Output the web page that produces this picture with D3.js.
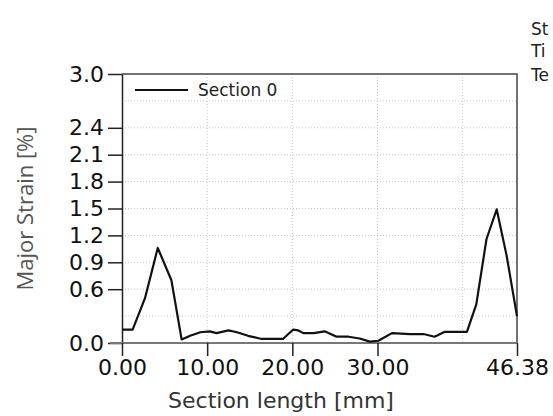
<!DOCTYPE html>
<html>
<head>
<meta charset="utf-8">
<script src="https://cdn.jsdelivr.net/npm/d3@7"></script>
<style>
  html, body { margin: 0; padding: 0; background: #fff; overflow: hidden; }
  svg { display: block; font-family: "DejaVu Sans", Verdana, sans-serif; }
</style>
</head>
<body>
<svg id="chart" width="553" height="416"></svg>
<script>
// Section 0 profile: position along the section [mm] and major strain [%]
const sectionLength = [0, 1.25, 2.7, 4.2, 5.8, 7.0, 8.0, 9.2, 10.3, 11.1, 12.5, 13.5, 14.8, 16.4, 18.9,
  20.1, 20.7, 21.3, 22.5, 23.8, 25.2, 26.6, 27.9, 29.1, 30.1, 31.7, 33.8, 35.4, 36.7, 37.9, 40.5,
  41.6, 42.8, 44.0, 45.15, 46.38];
const majorStrain = [0.15, 0.15, 0.50, 1.06, 0.70, 0.04, 0.08, 0.12, 0.13, 0.11, 0.14, 0.12, 0.08, 0.045, 0.045,
  0.15, 0.14, 0.11, 0.11, 0.13, 0.07, 0.07, 0.05, 0.015, 0.025, 0.11, 0.10, 0.10, 0.07, 0.125, 0.125,
  0.43, 1.16, 1.49, 0.98, 0.30];

const seriesName = "Section 0";
const xTicks = [0, 10, 20, 30, 46.38];
const xGrid = [10, 20, 30, 40];
const yTicks = [0.0, 0.6, 0.9, 1.2, 1.5, 1.8, 2.1, 2.4, 3.0];
const yGrid = [0.3, 0.6, 0.9, 1.2, 1.5, 1.8, 2.1, 2.4, 2.7];
const infoLines = ["St", "Ti", "Te"];

const svg = d3.select("#chart");
const plot = { left: 122, right: 517, top: 74, bottom: 343 };

const x = d3.scaleLinear().domain([0, 46.38]).range([plot.left, plot.right]);
const y = d3.scaleLinear().domain([0, 3.0]).range([plot.bottom, plot.top]);

// dotted grid
svg.append("g").selectAll("line").data(yGrid).join("line")
  .attr("x1", plot.left).attr("x2", plot.right)
  .attr("y1", d => y(d)).attr("y2", d => y(d))
  .attr("stroke", "#c8c8c8").attr("stroke-width", 1).attr("stroke-dasharray", "1,2");
svg.append("g").selectAll("line").data(xGrid).join("line")
  .attr("x1", d => x(d)).attr("x2", d => x(d))
  .attr("y1", plot.top).attr("y2", plot.bottom)
  .attr("stroke", "#c8c8c8").attr("stroke-width", 1).attr("stroke-dasharray", "1,2");

// top and right frame
svg.append("path")
  .attr("d", `M${plot.left},${plot.top}H${plot.right}V${plot.bottom}`)
  .attr("fill", "none").attr("stroke", "#444").attr("stroke-width", 1.5);

// y axis
const yAxis = d3.axisLeft(y).tickValues(yTicks).tickFormat(d3.format(".1f"))
  .tickSize(14).tickPadding(4).tickSizeOuter(0);
const gy = svg.append("g").attr("transform", `translate(${plot.left},0)`).call(yAxis);
gy.select(".domain").attr("stroke", "#222").attr("stroke-width", 1.5);
gy.selectAll(".tick line").attr("stroke", "#222").attr("stroke-width", 1.5);
gy.selectAll("text").attr("font-size", 22).attr("fill", "#111")
  .attr("font-family", "DejaVu Sans, Verdana, sans-serif");

// x axis
const xAxis = d3.axisBottom(x).tickValues(xTicks).tickFormat(d3.format(".2f"))
  .tickSize(13).tickPadding(3).tickSizeOuter(0);
const gx = svg.append("g").attr("transform", `translate(0,${plot.bottom})`).call(xAxis);
gx.select(".domain").attr("stroke", "#777").attr("stroke-width", 2)
  .attr("d", `M${plot.left - 12},0H${plot.right}`);
gx.selectAll(".tick line").attr("stroke", "#222").attr("stroke-width", 1.5);
gx.selectAll("text").attr("font-size", 22).attr("fill", "#111")
  .attr("font-family", "DejaVu Sans, Verdana, sans-serif");

// strain profile
const line = d3.line().x((d, i) => x(sectionLength[i])).y(d => y(d));
svg.append("path").datum(majorStrain)
  .attr("d", line)
  .attr("fill", "none").attr("stroke", "#111").attr("stroke-width", 2.2)
  .attr("stroke-linejoin", "round");

// legend
svg.append("line").attr("x1", 135).attr("x2", 188).attr("y1", 90).attr("y2", 90)
  .attr("stroke", "#111").attr("stroke-width", 2.2);
svg.append("text").attr("x", 198).attr("y", 96).attr("font-size", 17).attr("fill", "#222")
  .text(seriesName);

// axis titles
svg.append("text").attr("x", 281).attr("y", 408).attr("text-anchor", "middle")
  .attr("font-size", 22).attr("fill", "#333").text("Section length [mm]");
svg.append("text").attr("transform", `translate(33,${(plot.top + plot.bottom) / 2}) rotate(-90)`)
  .attr("text-anchor", "middle").attr("font-size", 22).attr("fill", "#555")
  .attr("font-family", "Open Sans, sans-serif")
  .text("Major Strain [%]");

// info block at top right
svg.append("g").selectAll("text").data(infoLines).join("text")
  .attr("x", 531).attr("y", (d, i) => [35, 57, 81][i])
  .attr("font-size", 17).attr("fill", "#222").text(d => d);
</script>
</body>
</html>
